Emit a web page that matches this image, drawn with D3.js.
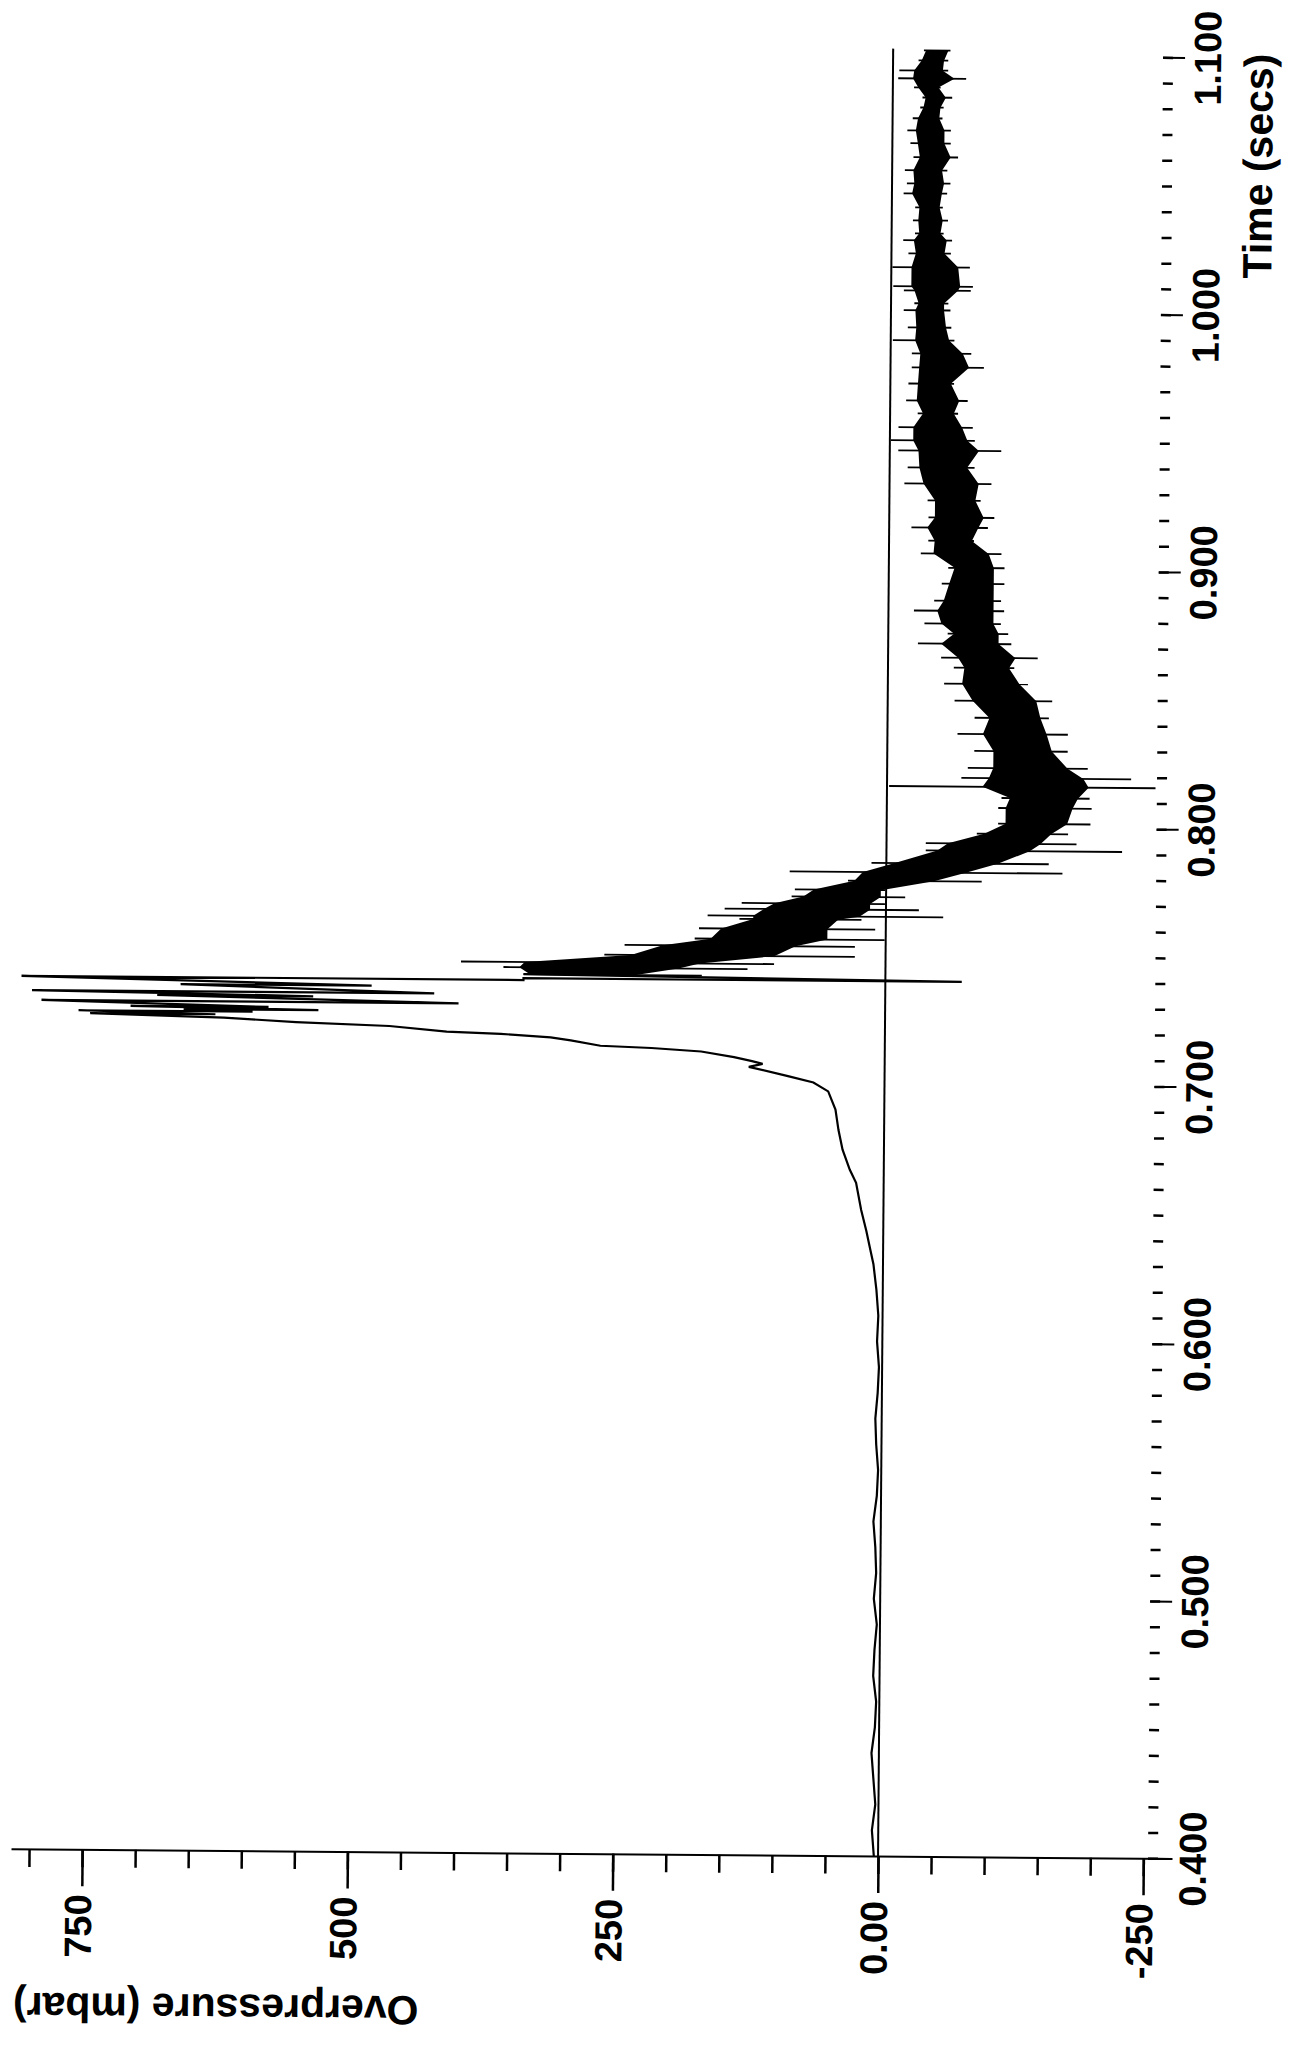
<html>
	<head>
		<meta charset="utf-8">
		<title>Overpressure trace</title>
	</head>
	<style>
		body { margin: 0; background: #fff; }
	</style>
	<body>
		<script src="https://d3js.org/d3.v7.min.js" charset="utf-8"></script>
		<script>
			var width = 1290;
			var height = 2047;

			// slow part of the record: baseline and the rise before the shock
			var smoothTime = [0.40, 0.41, 0.42, 0.43, 0.44, 0.45, 0.46, 0.47, 0.48, 0.49, 0.50, 0.51, 0.52, 0.53, 0.54, 0.55, 0.56, 0.57, 0.58, 0.59, 0.60, 0.61, 0.62, 0.63,
				0.6355, 0.643, 0.651, 0.6616, 0.6666, 0.6744, 0.682, 0.690, 0.697, 0.7004, 0.7028, 0.7063, 0.7075, 0.7085, 0.710, 0.7121, 0.7133, 0.714, 0.716, 0.7171, 0.7183, 0.719, 0.721, 0.7222, 0.7237];
			var smoothValue = [4, 6, 3, 5, 7, 4, 3, 6, 5, 3, 6, 4, 5, 7, 4, 3, 5, 6, 4, 3, 5, 4, 6, 9,
				12, 16, 21, 26, 32, 39, 43, 46, 53, 67, 91, 128, 115, 125, 142, 173, 220, 268, 296, 315, 362, 413, 467, 555, 623];

			// peak oscillation (max / min per sample)
			var peakTime = [0.7250, 0.7261, 0.7269, 0.7280, 0.7300, 0.7323, 0.7338, 0.7366, 0.7393, 0.7400];
			var peakHigh = [749, 760, 661, 711, 795, 686, 804, 664, 814, 341];
			var peakLow = [631, 596, 534, 581, 402, 539, 425, 484, 341, -72];

			// noisy decay and negative phase: spike extremes and dense core
			var noiseTime = [0.7416, 0.7443, 0.7463, 0.7494, 0.7533, 0.7560, 0.7600, 0.7638, 0.7650, 0.7677, 0.7700, 0.7727, 0.7754, 0.7790, 0.7824, 0.7860, 0.7910, 0.7938, 0.7977, 0.8016, 0.8077, 0.8116,
				0.8159, 0.8193, 0.8232, 0.8298, 0.8364, 0.8427, 0.8493, 0.8559, 0.8621, 0.8660, 0.8714, 0.8753, 0.8792, 0.8842, 0.8881, 0.8947, 0.9009, 0.9064, 0.9114, 0.9165,
				0.9204, 0.9270, 0.9336, 0.9398, 0.9464, 0.9503, 0.9554, 0.9608, 0.9658, 0.9724, 0.9787, 0.9841, 0.9892, 0.9942, 1.0009, 1.0036, 1.0086, 1.0102, 1.0176, 1.0230,
				1.0281, 1.0308, 1.0358, 1.0409, 1.0463, 1.0502, 1.0553, 1.0604, 1.0658, 1.0708, 1.0755, 1.0797, 1.0836, 1.0875, 1.0910, 1.0941, 1.0980, 1.1019];
			var noiseHigh = [341, 360, 400, 265, 246, 180, 176, 138, 168, 152, 136, 89, 86, 36, 91, 14, -37, -37, -85, -105, -105, -108,
				-2, -70, -76, -82, -66, -82, -63, -53, -62, -50, -28, -56, -34, -24, -43, -50, -56, -30, -37, -21,
				-37, -36, -14, -17, -8, -1, -8, -26, -15, -17, -20, -20, -2, -16, -12, -22, -12, -2, -1, -16,
				-11, -22, -20, -22, -11, -14, -12, -20, -17, -14, -19, -26, -28, -20, -5, -6, -24, -29];
			var noiseLow = [173, 130, 105, 29, 29, 1, 10, 23, -54, -31, 1, -18, 1, -90, -166, -153, -222, -179, -171, -192, -193, -191,
				-253, -230, -189, -170, -170, -152, -155, -132, -119, -141, -116, -113, -106, -109, -106, -109, -109, -106, -80, -93,
				-99, -86, -96, -80, -105, -80, -78, -64, -73, -60, -88, -76, -60, -57, -56, -54, -75, -77, -74, -56,
				-57, -49, -53, -48, -52, -55, -52, -62, -55, -55, -47, -48, -56, -45, -69, -52, -52, -54];
			var coreHigh = [335, 345, 340, 240, 210, 165, 155, 125, 125, 115, 105, 78, 68, 30, 22, -8, -48, -58, -92, -112, -112, -116,
				-90, -96, -100, -100, -90, -96, -80, -70, -72, -66, -50, -62, -50, -46, -52, -57, -62, -42, -43, -36,
				-43, -43, -32, -28, -27, -22, -22, -31, -25, -26, -27, -28, -23, -24, -23, -26, -22, -19, -19, -23,
				-21, -26, -25, -26, -19, -21, -20, -26, -24, -22, -24, -29, -31, -24, -19, -20, -27, -31];
			var coreLow = [235, 195, 175, 105, 85, 55, 55, 45, 25, 15, 15, 5, 5, -45, -75, -105, -135, -145, -155, -170, -175, -180,
				-190, -185, -170, -155, -150, -144, -140, -124, -114, -120, -104, -104, -99, -99, -99, -99, -99, -94, -78, -84,
				-89, -81, -84, -73, -84, -73, -68, -60, -65, -57, -74, -68, -55, -52, -50, -50, -63, -65, -63, -50,
				-52, -46, -48, -45, -47, -49, -47, -55, -49, -49, -44, -45, -50, -43, -58, -47, -48, -52];

			var zeroSpan = [0.40, 1.1025];	// reference line at 0 mbar

			var overTicks = [-250, 0, 250, 500, 750];
			var overLabels = ["-250", "0.00", "250", "500", "750"];
			var timeTicks = [0.4, 0.5, 0.6, 0.7, 0.8, 0.9, 1.0, 1.1];
			var timeLabels = ["0.400", "0.500", "0.600", "0.700", "0.800", "0.900", "1.000", "1.100"];

			var font = "'Liberation Sans', Arial, sans-serif";

			var svg = d3.select("body")
				.append("svg")
				.attr("width", width)
				.attr("height", height);

			// page is printed sideways: pressure runs right-to-left, time runs upward
			var x = d3.scaleLinear().domain([-277, 817]).range([1172, 11]);
			var y = d3.scaleLinear().domain([0.4, 1.1]).range([1856, 55]);

			// the scan is turned a little clockwise
			var g = svg.append("g")
				.attr("transform", "rotate(0.48," + x(0) + "," + y(0.4) + ")");

			// pressure axis along the bottom
			var overMinor = d3.range(-250, 801, 50);
			g.append("g")
				.attr("transform", "translate(0," + y(0.4) + ")")
				.call(d3.axisBottom(x).tickValues(overMinor).tickSize(18).tickSizeOuter(0).tickFormat(""))
				.call(function(a) { a.select(".domain").attr("stroke-width", 2); })
				.selectAll(".tick line").attr("stroke-width", 2.5);
			var overAxis = g.append("g")
				.attr("transform", "translate(0," + y(0.4) + ")")
				.call(d3.axisBottom(x).tickValues(overTicks).tickSize(37).tickSizeOuter(0)
					.tickFormat(function(d, i) { return overLabels[i]; }));
			overAxis.select(".domain").remove();
			overAxis.selectAll(".tick line").attr("stroke-width", 2.5);
			overAxis.selectAll("text")
				.attr("transform", "rotate(-90)")
				.attr("x", -45)
				.attr("y", 9)
				.attr("dy", 0)
				.attr("text-anchor", "end")
				.attr("fill", "#000")
				.style("font", "bold 38px " + font);

			// time axis on the right, ticks only
			var timeMinor = d3.range(40, 111).map(function(d) { return d / 100; });
			var minorAxis = g.append("g")
				.attr("transform", "translate(1148,0)")
				.call(d3.axisRight(y).tickValues(timeMinor).tickSize(10).tickFormat(""));
			minorAxis.select(".domain").remove();
			minorAxis.selectAll(".tick line").attr("stroke-width", 2.5);
			var timeAxis = g.append("g")
				.attr("transform", "translate(1148,0)")
				.call(d3.axisRight(y).tickValues(timeTicks).tickSize(22)
					.tickFormat(function(d, i) { return timeLabels[i]; }));
			timeAxis.select(".domain").remove();
			timeAxis.selectAll(".tick line").attr("stroke-width", 2);
			timeAxis.selectAll("text")
				.attr("transform", "rotate(-90)")
				.attr("x", 0)
				.attr("y", 58)
				.attr("dy", 0)
				.attr("text-anchor", "middle")
				.attr("fill", "#000")
				.style("font", "bold 38px " + font);

			// zero line
			g.append("line")
				.attr("x1", x(0)).attr("x2", x(0))
				.attr("y1", y(zeroSpan[0])).attr("y2", y(zeroSpan[1]))
				.attr("stroke", "#000")
				.attr("stroke-width", 2);

			// dense core of the noise band
			var core = noiseTime.map(function(t, i) { return [t, coreHigh[i], coreLow[i]]; });
			var area = d3.area()
				.y(function(d) { return y(d[0]); })
				.x0(function(d) { return x(d[1]); })
				.x1(function(d) { return x(d[2]); });
			g.append("path")
				.attr("d", area(core))
				.attr("fill", "#000");

			// spikes: every noisy sample drawn as a flat stroke from max to min
			g.selectAll(".spike")
				.data(noiseTime)
				.enter()
				.append("line")
				.attr("class", "spike")
				.attr("y1", function(t) { return y(t); })
				.attr("y2", function(t) { return y(t); })
				.attr("x1", function(t, i) { return x(noiseHigh[i]); })
				.attr("x2", function(t, i) { return x(noiseLow[i]); })
				.attr("stroke", "#000")
				.attr("stroke-width", 1.8);

			// the slow trace and the peak, peak samples drawn max -> min
			var pts = [];
			smoothTime.forEach(function(t, i) { pts.push([t, smoothValue[i]]); });
			peakTime.forEach(function(t, i) { pts.push([t, peakHigh[i]]); pts.push([t, peakLow[i]]); });
			pts.push([noiseTime[0], noiseHigh[0]]);
			var line = d3.line()
				.x(function(d) { return x(d[1]); })
				.y(function(d) { return y(d[0]); });
			g.append("path")
				.attr("d", line(pts))
				.attr("fill", "none")
				.attr("stroke", "#000")
				.attr("stroke-width", 2.2);

			// axis titles
			g.append("text")
				.attr("transform", "translate(1258,163) rotate(-90)")
				.attr("text-anchor", "middle")
				.style("font", "bold 41px " + font)
				.text("Time (secs)");
			g.append("text")
				.attr("transform", "translate(217,2000) rotate(180)")
				.attr("text-anchor", "middle")
				.style("font", "bold 41px " + font)
				.text("Overpressure (mbar)");
		</script>
	</body>
</html>
